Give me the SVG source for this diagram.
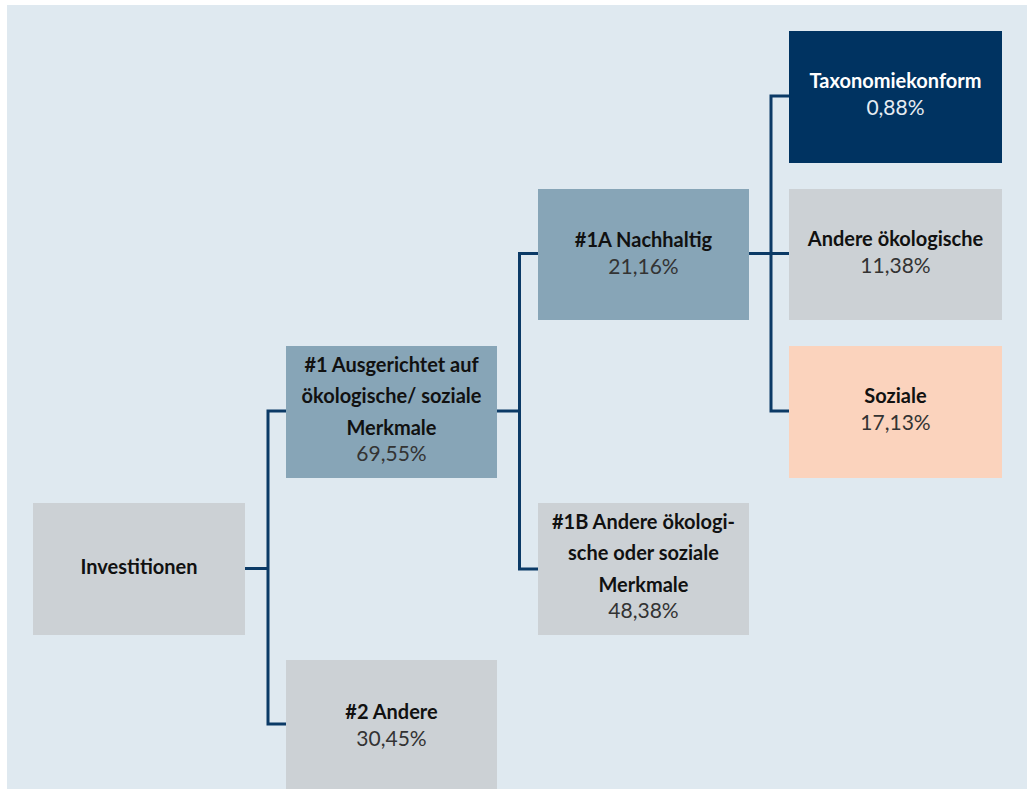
<svg xmlns="http://www.w3.org/2000/svg" width="1027" height="789" viewBox="0 0 1027 789">
<style>
.t{font-family:Lato,"Open Sans","Liberation Sans",sans-serif;font-size:20px;font-weight:700;fill:#111;text-anchor:middle}
.p{font-family:Lato,"Open Sans","Liberation Sans",sans-serif;font-size:21px;font-weight:400;fill:#333;text-anchor:middle}
.w{fill:#fff}
.wp{fill:#e6ecf2}
.gray{fill:#ccd1d5}
.blue{fill:#87a5b7}
.navy{fill:#003361}
.peach{fill:#fbd3bd}
.c{fill:none;stroke:#0b3a66;stroke-width:3}
</style>
<rect x="0" y="0" width="1027" height="789" fill="#ffffff"/>
<rect x="7" y="5" width="1020" height="784" fill="#dfe9f0"/>
<g id="connectors">
<path class="c" d="M245 568.5H268M286 411H268V724H286"/>
<path class="c" d="M497 411H519.5M538 253.5H519.5V569H538"/>
<path class="c" d="M749 253.5H789M789 96H771V411H789"/>
</g>
<g id="investitionen">
<rect class="gray" x="33" y="503" width="212" height="132"/>
<text class="t" x="139" y="574">Investitionen</text>
</g>
<g id="n1">
<rect class="blue" x="286" y="346" width="211" height="132"/>
<text class="t" x="391.5" y="372">#1 Ausgerichtet auf</text>
<text class="t" x="391.5" y="403">ökologische/ soziale</text>
<text class="t" x="391.5" y="435">Merkmale</text>
<text class="p" x="391.5" y="461">69,55%</text>
</g>
<g id="n2">
<rect class="gray" x="286" y="660" width="211" height="129"/>
<text class="t" x="391.5" y="719">#2 Andere</text>
<text class="p" x="391.5" y="746">30,45%</text>
</g>
<g id="n1a">
<rect class="blue" x="538" y="189" width="211" height="131"/>
<text class="t" x="643.5" y="247">#1A Nachhaltig</text>
<text class="p" x="643.5" y="274">21,16%</text>
</g>
<g id="n1b">
<rect class="gray" x="538" y="503" width="211" height="132"/>
<text class="t" x="643.5" y="529">#1B Andere ökologi-</text>
<text class="t" x="643.5" y="560">sche oder soziale</text>
<text class="t" x="643.5" y="592">Merkmale</text>
<text class="p" x="643.5" y="618">48,38%</text>
</g>
<g id="taxonomie">
<rect class="navy" x="789" y="31" width="213" height="132"/>
<text class="t w" x="895.5" y="88">Taxonomiekonform</text>
<text class="p wp" x="895.5" y="115">0,88%</text>
</g>
<g id="andere-oeko">
<rect class="gray" x="789" y="189" width="213" height="131"/>
<text class="t" x="895.5" y="246">Andere ökologische</text>
<text class="p" x="895.5" y="273">11,38%</text>
</g>
<g id="soziale">
<rect class="peach" x="789" y="346" width="213" height="132"/>
<text class="t" x="895.5" y="403">Soziale</text>
<text class="p" x="895.5" y="430">17,13%</text>
</g>
</svg>
